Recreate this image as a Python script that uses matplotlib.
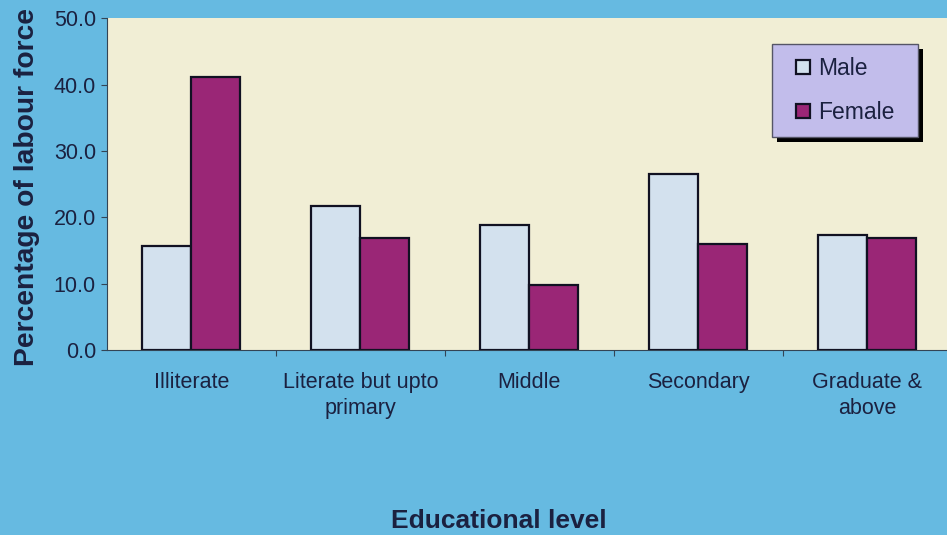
import matplotlib
matplotlib.use("Agg")
import matplotlib.pyplot as plt
import numpy as np
from matplotlib.patches import Rectangle
from matplotlib.lines import Line2D
from matplotlib.transforms import IdentityTransform

categories = ["Illiterate", "Literate but upto\nprimary", "Middle", "Secondary", "Graduate &\nabove"]
male = [15.7, 21.7, 18.8, 26.5, 17.3]
female = [41.1, 16.9, 9.8, 16.0, 16.8]
yticks = [0, 10, 20, 30, 40, 50]
series_names = ["Male", "Female"]

plt.rcParams['font.family'] = ['Liberation Sans', 'DejaVu Sans']
text_c = '#1b2140'
bg = '#66bae1'
male_c = '#d3e1ee'
female_c = '#9a2676'
edge_c = '#111122'

fig = plt.figure(figsize=(9.47, 5.35), dpi=100, facecolor=bg)
ax = fig.add_axes([0.113, 0.346, 0.892, 0.62])
ax.set_facecolor('#f1eed5')

x = np.arange(len(categories))
w = 0.29
ax.bar(x - w/2, male, w, color=male_c, edgecolor=edge_c, linewidth=1.6, zorder=3)
ax.bar(x + w/2, female, w, color=female_c, edgecolor=edge_c, linewidth=1.6, zorder=3)

ax.set_xlim(-0.5, len(categories) - 0.5)
ax.set_ylim(0, 50)
ax.set_yticks(yticks)
ax.set_yticklabels([f"{v:.1f}" for v in yticks], fontsize=15.5, color=text_c)
ax.set_xticks(np.arange(len(categories) - 1) + 0.5)
ax.set_xticklabels([])
ax.tick_params(axis='x', direction='out', length=4, color='#334455')
ax.tick_params(axis='y', direction='out', length=4, color='#334455', pad=4)
for i, c in enumerate(categories):
    ax.text(x[i], -3.4, c, ha='center', va='top', fontsize=15.5, color=text_c, linespacing=1.3)

for s in ['top', 'right']:
    ax.spines[s].set_visible(False)
ax.spines['left'].set_color('#334455')
ax.spines['bottom'].set_color('#334455')

fig.text(0.029, 0.650, 'Percentage of labour force', rotation=90, ha='center', va='center',
         fontsize=20.3, fontweight='bold', color=text_c)
fig.text(0.527, 0.026, 'Educational level', ha='center', va='center',
         fontsize=19, fontweight='bold', color=text_c)

handles = [Line2D([], [], marker='s', markersize=9.5, linestyle='none',
                  markerfacecolor=col, markeredgecolor=edge_c, markeredgewidth=1.6)
           for col in (male_c, female_c)]
leg = ax.legend(handles, series_names, loc='upper left', bbox_to_anchor=(0.787, 0.0, 0.1728, 0.922),
                mode='expand', fontsize=16.5, frameon=True, fancybox=False, shadow=False, framealpha=1,
                facecolor='#c2bdeb', edgecolor='#555566', handlelength=1.65,
                handletextpad=-0.2, labelspacing=0.95, borderpad=0.55, borderaxespad=0)
leg.set_zorder(10)
for t in leg.get_texts():
    t.set_color(text_c)

fig.canvas.draw()
bb = leg.get_window_extent()
print(bb)
off = 5
shadow = Rectangle((bb.x0 + off, bb.y0 - off), bb.width, bb.height,
                   facecolor='black', edgecolor='none', zorder=9)
ax.add_artist(shadow)
shadow.set_transform(IdentityTransform())

fig.savefig('out.png', dpi=100, facecolor=bg)
